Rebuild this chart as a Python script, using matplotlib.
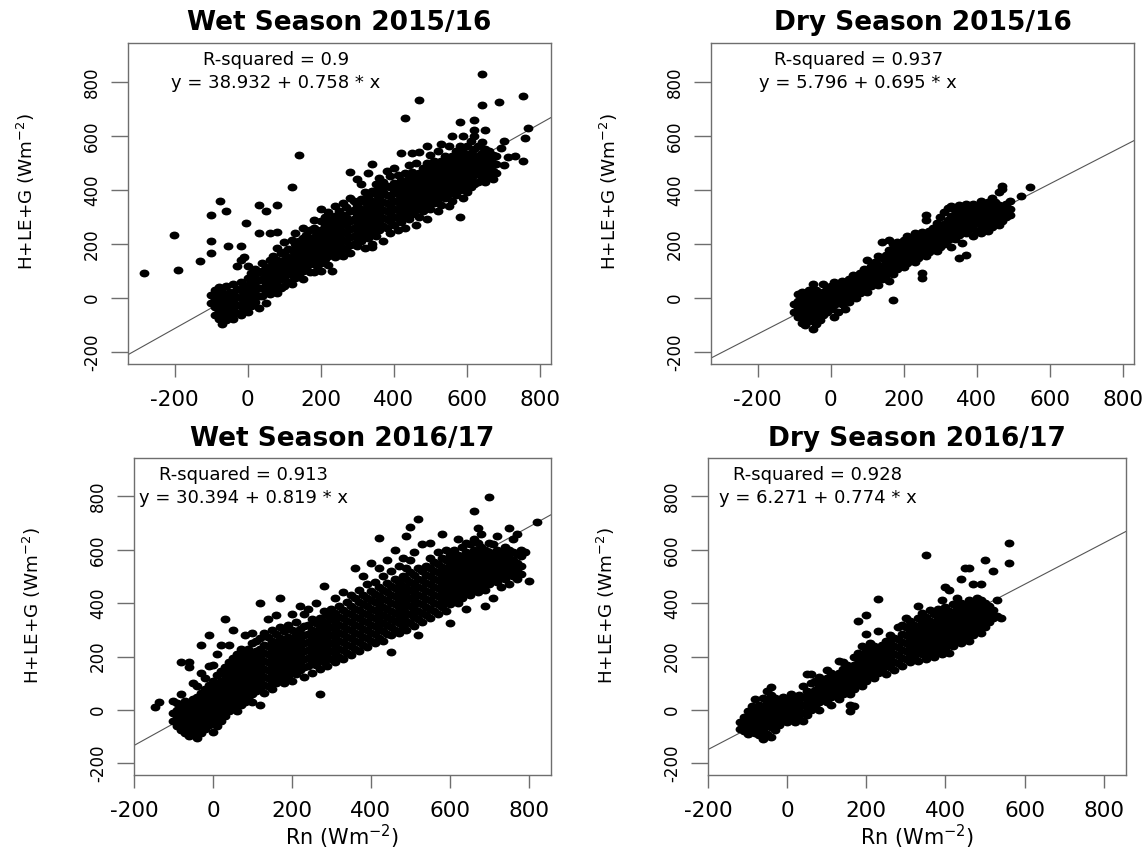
import matplotlib
matplotlib.use("Agg")
import matplotlib.pyplot as plt
from matplotlib.markers import MarkerStyle
from matplotlib.transforms import Affine2D

plt.rcParams["font.family"] = "DejaVu Sans"
plt.rcParams["axes.unicode_minus"] = False

titles = ["Wet Season 2015/16", "Dry Season 2015/16",
          "Wet Season 2016/17", "Dry Season 2016/17"]
r_squared = [0.9, 0.937, 0.913, 0.928]
intercepts = [38.932, 5.796, 30.394, 6.271]
slopes = [0.758, 0.695, 0.819, 0.774]
ticks = [-200, 0, 200, 400, 600, 800]

# Rn (W m-2) columns, and the H+LE+G values observed in each column
wet15_rn = [-285, -203, -191, -130, -100, -90, -80, -75, -70, -61, -60, -53, -50, -40, -30, -20, -10, -6,
            0, 10, 20, 30, 40, 50, 60, 70, 80, 90, 100, 110, 120, 130, 140, 150, 160, 170, 180, 190,
            200, 210, 220, 230, 240, 250, 260, 270, 280, 290, 300, 310, 320, 330, 340, 350, 360, 370,
            380, 390, 400, 410, 420, 430, 440, 450, 460, 470, 480, 490, 500, 510, 520, 530, 540, 550,
            560, 570, 580, 590, 600, 610, 620, 630, 640, 650, 660, 670, 680, 687, 692, 700, 712, 732,
            752, 754, 759, 767]
wet15_flux = [
    [93], [235], [105], [138], [-20, 12, 165, 211, 309], [-62, -33, -2, 28], [-78, -47, -17, 14, 40],
    [361], [-96, -61, -31, -1, 24], [322], [-82, -52, -21, 9, 44], [193], [-66, -36, -6, 24],
    [-76, -46, -15, 16, 52], [-57, -26, 4, 35, 120], [-64, -31, -1, 30, 61, 140, 193],
    [-42, -11, 19, 49, 152], [276],
    [-51, -20, 10, 41, 74, 118], [-29, 1, 31, 62, 94], [-14, 16, 46, 76, 106],
    [-36, 6, 36, 66, 96, 239, 343], [9, 39, 69, 99, 129], [-19, 24, 54, 84, 116, 322],
    [14, 44, 74, 106, 139, 239], [29, 59, 89, 121, 156], [19, 49, 79, 111, 141, 184, 245, 346],
    [39, 71, 101, 131, 166], [46, 79, 109, 139, 171, 209], [61, 91, 121, 151, 181],
    [51, 84, 114, 146, 176, 214, 412], [74, 104, 136, 166, 199, 241], [89, 121, 151, 181, 211, 528],
    [71, 101, 131, 161, 191, 224, 259], [111, 141, 171, 201, 234], [96, 126, 156, 186, 216, 251],
    [95, 134, 164, 196, 226, 259, 289], [119, 149, 181, 211, 244],
    [99, 131, 161, 191, 221, 251, 284, 331], [146, 176, 206, 236, 266, 299],
    [121, 156, 186, 216, 246, 276, 319], [99, 166, 196, 226, 256, 291],
    [151, 181, 211, 241, 271, 304, 341], [161, 171, 201, 231, 261, 291, 321],
    [156, 186, 216, 246, 276, 309, 351], [181, 211, 241, 271, 301, 336],
    [166, 196, 226, 256, 286, 321, 371, 465], [201, 231, 261, 291, 326, 361],
    [191, 221, 251, 281, 311, 346, 441], [211, 241, 271, 301, 331, 366, 421],
    [186, 231, 261, 291, 321, 356, 391], [221, 251, 281, 311, 341, 376, 461],
    [190, 201, 241, 271, 301, 331, 361, 396, 495], [231, 261, 291, 321, 351, 386, 421],
    [251, 281, 311, 341, 371, 406, 446], [211, 266, 296, 326, 356, 391, 431],
    [261, 291, 321, 351, 381, 416, 471], [241, 286, 316, 346, 376, 411, 451],
    [271, 301, 331, 361, 391, 426, 481], [251, 296, 326, 356, 386, 416, 456],
    [281, 311, 341, 371, 401, 436, 538], [261, 301, 331, 361, 391, 421, 461, 666],
    [291, 321, 351, 381, 411, 446, 491], [311, 341, 371, 401, 431, 466, 538],
    [271, 326, 356, 386, 416, 451, 501], [301, 341, 371, 401, 431, 461, 541, 733],
    [321, 356, 386, 416, 446, 481], [291, 341, 371, 401, 431, 461, 501, 561],
    [331, 361, 391, 421, 451, 486, 531], [351, 381, 411, 441, 471, 506],
    [321, 366, 396, 426, 456, 491, 546], [346, 381, 411, 441, 471, 506, 571],
    [371, 401, 431, 461, 491, 526], [341, 386, 416, 446, 476, 511, 561],
    [361, 401, 431, 461, 491, 526, 601], [381, 416, 446, 476, 506, 546],
    [301, 401, 431, 461, 491, 521, 561, 651], [371, 416, 446, 476, 506, 541, 601],
    [391, 431, 461, 491, 521, 561], [411, 446, 476, 506, 536, 581],
    [421, 456, 486, 516, 551, 601, 623, 660], [431, 466, 496, 526, 561],
    [446, 476, 506, 536, 576, 715, 828], [431, 461, 491, 521, 551, 621], [451, 481, 511, 546],
    [441, 471, 501, 531], [461, 496, 526], [727], [556], [491, 580], [521], [526],
    [507], [749], [593], [629],
]

dry15_rn = [-100, -90, -80, -70, -60, -50, -40, -30, -20, -10, 0, 10, 20, 30, 40, 50, 60, 70, 80, 90,
            100, 110, 120, 130, 140, 150, 160, 170, 180, 190, 200, 210, 220, 230, 240, 250, 260, 270,
            280, 290, 300, 310, 320, 330, 340, 350, 360, 370, 380, 390, 400, 410, 420, 430, 440, 450,
            460, 470, 480, 490, 520, 545]
dry15_flux = [
    [-52, -21], [-71, -41, -11, 14], [-91, -61, -31, -1, 24], [-101, -76, -46, -16, 9],
    [-86, -56, -26, 4, 29], [-115, -71, -41, -11, 19, 52], [-96, -61, -31, -1, 29], [-81, -51, -21, 9],
    [-61, -36, -6, 24, 52], [-51, -21, 9, 34], [-41, -11, 19, 44], [-71, -26, 4, 34, 59],
    [-51, -11, 19, 49], [-21, 9, 39, 64], [-41, -1, 29, 54], [-16, 19, 44, 69], [9, 34, 59, 84],
    [-1, 24, 49, 79], [19, 44, 69, 94], [34, 59, 84, 109],
    [24, 49, 74, 99, 139], [44, 69, 94, 119], [59, 84, 109, 134], [49, 74, 99, 124, 154],
    [69, 94, 119, 149, 209], [84, 109, 134, 159], [64, 99, 124, 154, 179, 214],
    [-8, 89, 114, 139, 164, 199], [109, 134, 159, 184, 209], [124, 149, 174, 199],
    [114, 139, 164, 189, 214], [129, 154, 179, 204, 229], [144, 169, 194, 219],
    [134, 159, 184, 209, 239], [149, 174, 199, 224], [74, 94, 164, 189, 214, 244],
    [154, 179, 204, 229, 289, 306], [169, 194, 219, 249], [184, 209, 234, 259],
    [174, 199, 224, 249, 279], [189, 214, 239, 264, 299], [199, 224, 249, 274, 319],
    [214, 239, 264, 289, 334], [189, 229, 254, 279, 304, 339], [219, 244, 269, 294, 324],
    [148, 234, 259, 284, 309, 344], [204, 249, 274, 299, 324], [159, 239, 264, 289, 314, 349],
    [254, 279, 304, 329], [229, 269, 294, 319, 349], [249, 279, 304, 329],
    [239, 269, 294, 319, 344, 359], [254, 284, 309, 334], [249, 274, 299, 324, 354],
    [264, 289, 314, 339, 369], [279, 304, 329, 354], [269, 294, 319, 344, 394],
    [284, 309, 334, 404, 414], [299, 324, 349], [309, 329, 359], [379], [410],
]

wet16_rn = [-146, -137, -100, -90, -80, -70, -60, -50, -40, -30, -20, -10, 0, 10, 20, 30, 40, 50, 60,
            70, 80, 90, 100, 110, 120, 130, 140, 150, 160, 170, 180, 190, 200, 210, 220, 230, 240, 250,
            260, 270, 280, 290, 300, 310, 320, 330, 340, 350, 360, 370, 380, 390, 400, 410, 420, 430,
            440, 450, 460, 470, 480, 490, 500, 510, 520, 530, 540, 550, 560, 570, 580, 590, 600, 610,
            620, 630, 640, 650, 660, 670, 680, 690, 700, 710, 720, 730, 740, 750, 760, 770, 780, 790,
            800, 820]
wet16_flux = [
    [11], [31], [-41, -11, 34], [-61, -31, -1, 24], [-76, -46, -16, 14, 59, 179],
    [-86, -56, -26, 4, 34], [-96, -66, -36, -6, 24, 159, 181], [-81, -51, -21, 9, 39, 99],
    [-104, -71, -41, -11, 19, 49, 89], [-86, -56, -26, 4, 34, 64, 139, 245],
    [-71, -41, -11, 19, 49, 79, 119], [-56, -26, 4, 34, 64, 94, 164, 279],
    [-81, -41, -11, 19, 49, 79, 109, 169], [-61, -26, 4, 34, 64, 94, 129, 209],
    [-41, -11, 19, 49, 79, 109, 144, 245], [-21, 9, 39, 69, 99, 129, 159, 339],
    [-6, 24, 54, 84, 114, 144, 179, 245], [10, 40, 70, 100, 130, 160, 195, 300],
    [-5, 25, 55, 85, 115, 145, 175, 210], [20, 45, 75, 105, 135, 165, 195, 230],
    [30, 60, 90, 120, 150, 180, 215, 280], [45, 75, 105, 135, 165, 195, 230],
    [30, 60, 90, 120, 150, 180, 210, 250, 290], [70, 100, 130, 160, 190, 220, 260],
    [18, 80, 110, 140, 170, 200, 230, 270, 401], [65, 95, 125, 155, 185, 215, 245, 290],
    [90, 120, 150, 180, 210, 240, 275, 340], [80, 110, 140, 170, 200, 230, 260, 300],
    [100, 130, 160, 190, 220, 250, 285, 355], [120, 150, 180, 210, 240, 270, 310, 420],
    [100, 140, 170, 200, 230, 260, 295], [125, 155, 185, 215, 245, 275, 320],
    [110, 145, 175, 205, 235, 265, 300, 360], [135, 165, 195, 225, 255, 285, 330],
    [150, 180, 210, 240, 270, 305, 390], [125, 160, 190, 220, 250, 280, 315, 360],
    [165, 195, 225, 255, 285, 320, 380], [140, 180, 210, 240, 270, 300, 340],
    [170, 200, 230, 260, 290, 325, 400], [61, 155, 190, 220, 250, 280, 310, 345],
    [180, 210, 240, 270, 300, 330, 370, 465], [165, 200, 230, 260, 290, 320, 355],
    [190, 220, 250, 280, 310, 340, 380], [180, 215, 245, 275, 305, 335, 365, 420],
    [200, 230, 260, 290, 320, 350, 390], [190, 225, 255, 285, 315, 345, 375, 440],
    [215, 245, 275, 305, 335, 365, 405], [205, 240, 270, 300, 330, 360, 390, 430],
    [230, 260, 290, 320, 350, 380, 420, 530], [220, 255, 285, 315, 345, 375, 405, 450],
    [245, 275, 305, 335, 365, 395, 430, 500], [235, 270, 300, 330, 360, 390, 420, 470],
    [260, 290, 320, 350, 380, 410, 445, 550], [250, 285, 315, 345, 375, 405, 435, 480],
    [270, 305, 335, 365, 395, 425, 460, 530, 644], [260, 295, 325, 355, 385, 415, 450, 500],
    [285, 320, 350, 380, 410, 440, 475, 560], [218, 280, 310, 340, 370, 400, 430, 465, 520],
    [300, 335, 365, 395, 425, 455, 490, 600], [290, 325, 355, 385, 415, 445, 480, 540],
    [310, 345, 375, 405, 435, 465, 500, 570], [300, 335, 365, 395, 425, 455, 490, 530, 650],
    [325, 360, 390, 420, 450, 480, 515, 560, 687], [315, 350, 380, 410, 440, 470, 505, 590],
    [280, 340, 370, 400, 430, 460, 490, 530, 715], [330, 365, 395, 425, 455, 485, 520, 620],
    [355, 385, 415, 445, 475, 505, 540], [345, 380, 410, 440, 470, 500, 530, 570, 625],
    [370, 400, 430, 460, 490, 520, 555], [360, 395, 425, 455, 485, 515, 545, 590],
    [385, 415, 445, 475, 505, 535, 570, 660], [370, 405, 435, 465, 495, 525, 560, 600],
    [325, 395, 425, 455, 485, 515, 545, 580], [410, 440, 470, 500, 530, 560, 600],
    [400, 430, 460, 490, 520, 550, 580, 640], [420, 450, 480, 510, 540, 570, 610],
    [380, 440, 470, 500, 530, 560, 590, 625], [430, 460, 490, 520, 550, 580, 620],
    [450, 480, 510, 540, 570, 600, 640, 744], [440, 470, 500, 530, 560, 590, 625, 680],
    [460, 490, 520, 550, 580, 610, 660], [390, 450, 480, 510, 540, 570, 600],
    [470, 500, 530, 560, 590, 625, 797], [420, 490, 520, 550, 580, 620],
    [480, 510, 540, 570, 600, 650], [460, 500, 530, 560, 590], [490, 520, 550, 580, 610],
    [470, 510, 540, 570, 600, 680], [500, 530, 560, 590, 640], [490, 520, 550, 585, 660],
    [510, 540, 575, 600], [590], [482], [706],
]

dry16_rn = [-120, -110, -100, -90, -80, -70, -60, -50, -40, -30, -20, -10, 0, 10, 20, 30, 40, 50, 60,
            70, 80, 90, 100, 110, 120, 130, 140, 150, 160, 170, 180, 190, 200, 210, 220, 230, 240, 250,
            260, 270, 280, 290, 300, 310, 320, 330, 340, 350, 360, 370, 380, 390, 400, 410, 420, 430,
            440, 450, 460, 470, 480, 490, 500, 510, 520, 530, 540, 560]
dry16_flux = [
    [-70, -45], [-80, -55, -25], [-90, -65, -35, -5], [-75, -45, -15, 15], [-85, -55, -25, 5, 40],
    [-95, -65, -35, -5, 20], [-110, -75, -45, -15, 15, 45], [-90, -55, -25, 5, 35, 70],
    [-100, -65, -35, -5, 25, 55, 85], [-75, -45, -15, 15, 45], [-55, -25, 5, 35], [-40, -10, 20, 50],
    [-45, -20, 10, 40], [-30, 0, 30, 60], [-45, -15, 15, 45], [-35, -5, 25, 55],
    [-40, -10, 20, 50, 90], [-20, 10, 40, 70, 135], [0, 30, 60, 100, 135], [15, 45, 75, 110],
    [0, 30, 60, 90, 125], [45, 75, 105], [30, 60, 90, 120, 150], [20, 50, 80, 110, 140],
    [65, 95, 125], [40, 80, 110, 140, 185], [60, 95, 125, 155, 180], [75, 110, 140, 170],
    [-4, 20, 60, 95, 125, 155], [15, 80, 110, 140, 170, 200], [100, 130, 160, 190, 215, 332],
    [90, 120, 150, 180, 210, 240], [110, 140, 170, 200, 230, 285, 357], [130, 160, 190, 220, 250],
    [120, 150, 180, 210, 240], [140, 170, 200, 230, 295, 417], [155, 185, 215, 245],
    [135, 170, 200, 230, 260], [160, 190, 220, 250, 280], [150, 180, 210, 240, 270],
    [175, 205, 235, 265, 310], [165, 195, 225, 255, 285, 320], [190, 220, 250, 280, 310, 345],
    [180, 210, 240, 270, 300, 335], [200, 230, 260, 290, 320], [185, 220, 250, 280, 310, 345, 389],
    [210, 240, 270, 300, 330, 365], [190, 225, 255, 285, 315, 350, 579],
    [215, 245, 275, 305, 335, 375], [200, 235, 265, 295, 325, 360], [220, 250, 280, 310, 340, 380],
    [210, 245, 275, 305, 335, 365, 410], [230, 260, 290, 320, 350, 385, 460],
    [215, 250, 280, 310, 340, 370, 450], [240, 270, 300, 330, 360, 395],
    [260, 290, 320, 350, 380, 420], [250, 280, 310, 340, 370, 400, 492],
    [270, 300, 330, 360, 390, 532], [260, 290, 320, 350, 380, 410, 532],
    [280, 310, 340, 370, 400, 470], [300, 330, 360, 390, 420], [290, 320, 350, 380, 410, 470],
    [310, 340, 370, 400, 563], [330, 360, 390], [345, 375, 522], [351, 413], [345], [551, 625],
]

panels = [(wet15_rn, wet15_flux), (dry15_rn, dry15_flux),
          (wet16_rn, wet16_flux), (dry16_rn, dry16_flux)]

# axes boxes in figure fractions: left, bottom, width, height
boxes = [[0.1117, 0.5723, 0.3691, 0.3772], [0.6204, 0.5723, 0.3691, 0.3772],
         [0.1169, 0.0893, 0.3639, 0.3725], [0.6178, 0.0893, 0.3647, 0.3725]]
xlims = [(-328, 830), (-328, 830), (-200, 856), (-200, 856)]
text_x = [0.35, 0.348, 0.262, 0.263]
ylab_x = [-0.215, -0.215, -0.218, -0.218]

# slightly wide dots
dot = MarkerStyle("o", transform=Affine2D().scale(1.25, 1.0))
frame = "#6e6e6e"

fig = plt.figure(figsize=(11.46, 8.51), dpi=100)

for i in range(4):
    ax = fig.add_axes(boxes[i])
    rn_cols, flux_cols = panels[i]
    xs, ys = [], []
    for x, col in zip(rn_cols, flux_cols):
        xs += [x] * len(col)
        ys += col
    # fitted line sits under the dots, so it only shows outside the cloud
    ax.axline((0, intercepts[i]), slope=slopes[i], color="#555555", lw=0.8, zorder=1)
    ax.scatter(xs, ys, s=32, marker=dot, c="black", linewidths=0, zorder=2)

    ax.set_xlim(*xlims[i])
    ax.set_ylim(-244, 944)
    ax.set_xticks(ticks)
    ax.set_yticks(ticks)
    ax.tick_params(axis="x", length=9.4, width=1.0, color=frame, labelsize=15.5, pad=9)
    ax.tick_params(axis="y", length=12.5, width=1.0, color=frame, labelsize=12, pad=7,
                   labelrotation=90)
    for lbl in ax.get_yticklabels():
        lbl.set_va("center")
    for sp in ax.spines.values():
        sp.set_color(frame)
        sp.set_linewidth(1.0)

    ax.set_title(titles[i], fontsize=19, fontweight="bold", pad=9)
    ax.set_ylabel(r"H+LE+G (Wm$^{-2}$)", fontsize=13.2)
    ax.yaxis.set_label_coords(ylab_x[i], 0.536)
    if i >= 2:
        ax.set_xlabel(r"Rn (Wm$^{-2}$)", fontsize=15)
        ax.xaxis.set_label_coords(0.5, -0.152)

    ax.text(text_x[i], 0.931, f"R-squared = {r_squared[i]}", transform=ax.transAxes,
            ha="center", va="baseline", fontsize=13)
    ax.text(text_x[i], 0.859, f"y = {intercepts[i]} + {slopes[i]} * x", transform=ax.transAxes,
            ha="center", va="baseline", fontsize=13)

fig.savefig("out.png", dpi=100)
